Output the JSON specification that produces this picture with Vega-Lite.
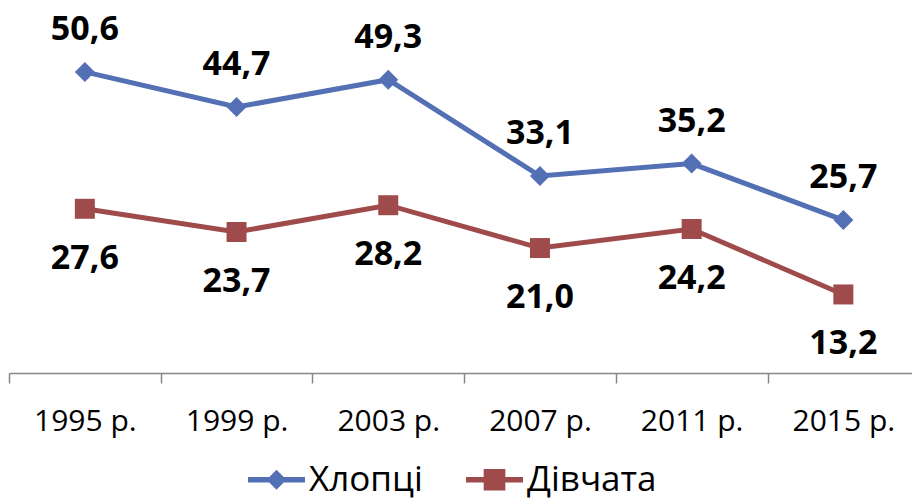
{
  "$schema": "https://vega.github.io/schema/vega-lite/v6.json",
  "width": 903,
  "height": 357,
  "autosize": {"type": "none"},
  "padding": {"left": 9, "top": 16, "right": 0, "bottom": 129},
  "background": "white",
  "config": {
    "view": {"stroke": null},
    "font": "Open Sans",
    "locale": {"number": {"decimal": ",", "thousands": " ", "grouping": [3], "currency": ["", " ₴"]}}
  },
  "data": {
    "values": [
      {"year": 1995, "series": "Хлопці", "value": 50.6},
      {"year": 1999, "series": "Хлопці", "value": 44.7},
      {"year": 2003, "series": "Хлопці", "value": 49.3},
      {"year": 2007, "series": "Хлопці", "value": 33.1},
      {"year": 2011, "series": "Хлопці", "value": 35.2},
      {"year": 2015, "series": "Хлопці", "value": 25.7},
      {"year": 1995, "series": "Дівчата", "value": 27.6},
      {"year": 1999, "series": "Дівчата", "value": 23.7},
      {"year": 2003, "series": "Дівчата", "value": 28.2},
      {"year": 2007, "series": "Дівчата", "value": 21.0},
      {"year": 2011, "series": "Дівчата", "value": 24.2},
      {"year": 2015, "series": "Дівчата", "value": 13.2}
    ]
  },
  "encoding": {
    "x": {
      "field": "year",
      "type": "quantitative",
      "scale": {"domain": [1993, 2016.81], "nice": false, "zero": false},
      "axis": {
        "values": [1995, 1999, 2003, 2007, 2011, 2015],
        "labelExpr": "datum.value + ' р.'",
        "tickOffset": -75.85,
        "labelOffset": 75.85,
        "title": null,
        "grid": false,
        "domainColor": "#888888",
        "domainWidth": 1.5,
        "tickColor": "#888888",
        "tickWidth": 1.5,
        "tickSize": 10,
        "labelFontSize": 30,
        "labelFont": "Open Sans",
        "labelColor": "#000000",
        "labelPadding": 23,
        "labelFlush": false,
        "labelOverlap": false,
        "labelBound": false
      }
    },
    "y": {
      "field": "value",
      "type": "quantitative",
      "scale": {"domain": [0, 60], "nice": false, "zero": true},
      "axis": null
    }
  },
  "layer": [
    {
      "mark": {"type": "line", "strokeWidth": 5},
      "encoding": {
        "color": {
          "field": "series",
          "type": "nominal",
          "scale": {"domain": ["Хлопці", "Дівчата"], "range": ["#5470B5", "#A04B4B"]},
          "legend": {
            "title": null,
            "orient": "none",
            "legendX": 239,
            "legendY": 435,
            "direction": "horizontal",
            "labelFontSize": 35,
            "labelFont": "Open Sans",
            "labelColor": "#000000",
            "symbolSize": 3249,
            "labelOffset": 4,
            "columnPadding": 43,
            "encode": {
              "symbols": {
                "update": {
                  "shape": {"signal": "datum.value === 'Хлопці' ? 'M-1,-0.1H1V0.1H-1Z M0,-0.35L0.35,0L0,0.35L-0.35,0Z' : 'M-1,-0.1H1V0.1H-1Z M-0.38,-0.38H0.38V0.38H-0.38Z'"},
                  "fill": {"signal": "datum.value === 'Хлопці' ? '#5470B5' : '#A04B4B'"},
                  "stroke": {"value": "transparent"},
                  "strokeWidth": {"value": 0},
                  "opacity": {"value": 1}
                }
              }
            }
          }
        }
      }
    },
    {
      "transform": [{"filter": "datum.series === 'Хлопці'"}],
      "mark": {"type": "point", "shape": "diamond", "filled": true, "opacity": 1, "size": 400, "strokeWidth": 0, "color": "#5470B5"}
    },
    {
      "transform": [{"filter": "datum.series === 'Дівчата'"}],
      "mark": {"type": "point", "shape": "square", "filled": true, "opacity": 1, "size": 400, "strokeWidth": 0, "color": "#A04B4B"}
    },
    {
      "transform": [{"filter": "datum.series === 'Хлопці'"}],
      "mark": {"type": "text", "dy": -42, "fontSize": 34, "fontWeight": "bold", "font": "Open Sans", "baseline": "middle", "color": "#000000"},
      "encoding": {"text": {"field": "value", "type": "quantitative", "format": ".1f"}}
    },
    {
      "transform": [{"filter": "datum.series === 'Дівчата'"}],
      "mark": {"type": "text", "dy": 50, "fontSize": 34, "fontWeight": "bold", "font": "Open Sans", "baseline": "middle", "color": "#000000"},
      "encoding": {"text": {"field": "value", "type": "quantitative", "format": ".1f"}}
    }
  ]
}
